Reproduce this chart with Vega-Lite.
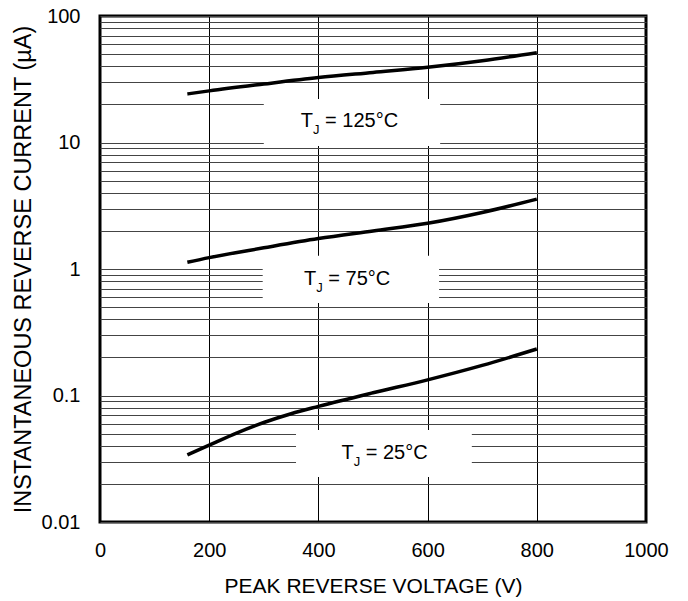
{
  "$schema": "https://vega.github.io/schema/vega-lite/v6.json",
  "width": 546,
  "height": 506,
  "autosize": {"type": "none"},
  "padding": {"left": 100, "top": 16, "right": 42, "bottom": 79},
  "background": "white",
  "config": {
    "view": {"stroke": "black", "strokeWidth": 3},
    "axis": {"labelFont": "Liberation Sans", "titleFont": "Liberation Sans", "labelColor": "black", "titleColor": "black", "titleFontWeight": "normal"}
  },
  "datasets": {
    "curves": [
      {"s": "125", "v": 160, "i": 24.2},
      {"s": "125", "v": 200, "i": 25.6},
      {"s": "125", "v": 300, "i": 29.0},
      {"s": "125", "v": 400, "i": 32.6},
      {"s": "125", "v": 500, "i": 35.8},
      {"s": "125", "v": 600, "i": 39.3},
      {"s": "125", "v": 700, "i": 44.3},
      {"s": "125", "v": 800, "i": 51.3},
      {"s": "75", "v": 160, "i": 1.13},
      {"s": "75", "v": 200, "i": 1.23},
      {"s": "75", "v": 300, "i": 1.47},
      {"s": "75", "v": 400, "i": 1.74},
      {"s": "75", "v": 500, "i": 2.0},
      {"s": "75", "v": 600, "i": 2.3},
      {"s": "75", "v": 700, "i": 2.8},
      {"s": "75", "v": 800, "i": 3.57},
      {"s": "25", "v": 160, "i": 0.0339},
      {"s": "25", "v": 200, "i": 0.0405},
      {"s": "25", "v": 250, "i": 0.0505},
      {"s": "25", "v": 300, "i": 0.0612},
      {"s": "25", "v": 350, "i": 0.0718},
      {"s": "25", "v": 400, "i": 0.082},
      {"s": "25", "v": 500, "i": 0.105},
      {"s": "25", "v": 600, "i": 0.133},
      {"s": "25", "v": 700, "i": 0.173},
      {"s": "25", "v": 800, "i": 0.233}
    ],
    "boxes": [
      {"v": 300, "v2": 623, "i": 9.4, "i2": 22.1},
      {"v": 298, "v2": 621, "i": 0.538, "i2": 1.27},
      {"v": 359, "v2": 681, "i": 0.0227, "i2": 0.0533}
    ],
    "labels": [
      {"t": "= 125°C", "v": 414, "i": 13.2},
      {"t": "= 75°C", "v": 420, "i": 0.748},
      {"t": "= 25°C", "v": 488.5, "i": 0.0315}
    ]
  },
  "encoding": {
    "x": {
      "field": "v", "type": "quantitative",
      "scale": {"domain": [0, 1000], "nice": false, "zero": false},
      "axis": {
        "title": "PEAK REVERSE VOLTAGE (V)",
        "values": [0, 200, 400, 600, 800, 1000],
        "format": "d",
        "grid": true, "gridColor": "black", "gridWidth": 1, "gridOpacity": 1,
        "domain": false, "ticks": false, "tickSize": 0,
        "labelFontSize": 20, "labelPadding": 18, "labelFlush": false,
        "titleFontSize": 21, "titlePadding": 15
      }
    },
    "y": {
      "field": "i", "type": "quantitative",
      "scale": {"type": "log", "domain": [0.01, 100], "nice": false},
      "axis": {
        "title": "INSTANTANEOUS REVERSE CURRENT (µA)",
        "values": [0.01, 0.02, 0.03, 0.04, 0.05, 0.06, 0.07, 0.08, 0.09, 0.1, 0.2, 0.3, 0.4, 0.5, 0.6, 0.7, 0.8, 0.9, 1, 2, 3, 4, 5, 6, 7, 8, 9, 10, 20, 30, 40, 50, 60, 70, 80, 90, 100],
        "format": "~g",
        "labelExpr": "(datum.value == 0.01 || datum.value == 0.1 || datum.value == 1 || datum.value == 10 || datum.value == 100) ? datum.label : ''",
        "labelOverlap": false,
        "grid": true, "gridColor": "#444444", "gridWidth": 1, "gridOpacity": 1,
        "domain": false, "ticks": false, "tickSize": 0,
        "labelFontSize": 20, "labelPadding": 20, "labelFlush": false,
        "titleFontSize": 23.5, "titlePadding": 6
      }
    }
  },
  "layer": [
    {
      "data": {"name": "boxes"},
      "mark": {"type": "rect", "color": "white", "opacity": 1},
      "encoding": {"x2": {"field": "v2"}, "y2": {"field": "i2"}}
    },
    {
      "data": {"name": "curves"},
      "mark": {"type": "line", "color": "black", "strokeWidth": 3.5, "interpolate": "monotone"},
      "encoding": {"detail": {"field": "s"}}
    },
    {
      "data": {"name": "labels"},
      "mark": {"type": "text", "text": "T", "align": "right", "baseline": "alphabetic", "dx": -13, "font": "Liberation Sans", "fontSize": 20, "color": "black"}
    },
    {
      "data": {"name": "labels"},
      "mark": {"type": "text", "text": "J", "align": "left", "baseline": "alphabetic", "dx": -13, "dy": 7, "font": "Liberation Sans", "fontSize": 13, "color": "black"}
    },
    {
      "data": {"name": "labels"},
      "mark": {"type": "text", "align": "left", "baseline": "alphabetic", "dx": -1, "font": "Liberation Sans", "fontSize": 20, "color": "black"},
      "encoding": {"text": {"field": "t"}}
    }
  ]
}
